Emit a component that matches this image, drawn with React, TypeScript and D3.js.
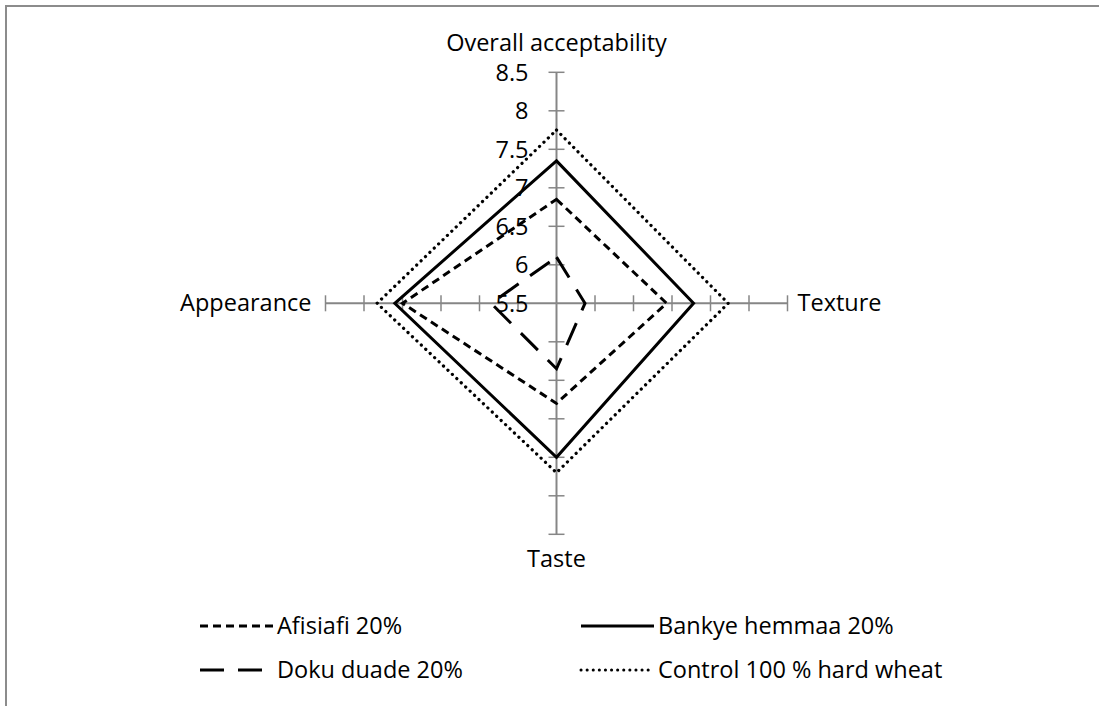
import React from 'react';
import * as d3 from 'd3';

const WIDTH = 1099;
const HEIGHT = 706;
const CX = 556.5;
const CY = 303.3;
const R = 231;
const FONT = "'Open Sans', sans-serif";
const FS = 23.5;

// clockwise from the top
const axes = ['Overall acceptability', 'Texture', 'Taste', 'Appearance'];
const tickValues = [5.5, 6, 6.5, 7, 7.5, 8, 8.5];

const afisiafi = [6.85, 6.93, 6.8, 7.5];
const bankye = [7.35, 7.28, 7.5, 7.6];
const doku = [6.1, 5.87, 6.35, 6.35];
const control = [7.75, 7.73, 7.7, 7.83];

const seriesNames = ['Afisiafi 20%', 'Bankye hemmaa 20%', 'Doku duade 20%', 'Control 100 % hard wheat'];
const seriesValues = [afisiafi, bankye, doku, control];
const dashes = ['8,5', 'none', '24,14', '0.1,6'];

const AXIS_COLOR = '#868686';

const App = () => {
  const r = d3.scaleLinear().domain([5.5, 8.5]).range([0, R]);
  const angle = (i: number) => (i * Math.PI) / 2; // 0 = up

  const pt = (i: number, v: number): [number, number] => [
    CX + Math.sin(angle(i)) * r(v),
    CY - Math.cos(angle(i)) * r(v),
  ];

  const line = d3.line().curve(d3.curveLinearClosed);

  return (
    <svg
      width={WIDTH}
      height={HEIGHT}
      style={{ position: 'absolute', left: 0, top: 0, background: '#fff' }}
      fontFamily={FONT}
    >
      <rect x={6} y={6} width={1300} height={900} fill="#fff" stroke="#8c8c8c" strokeWidth={2} />

      {/* axes */}
      {axes.map((name, i) => {
        const [x2, y2] = pt(i, 8.5);
        const horiz = i % 2 === 1;
        return (
          <g key={name}>
            <line x1={CX} y1={CY} x2={x2} y2={y2} stroke={AXIS_COLOR} strokeWidth={2} />
            {tickValues.slice(1).map((t) => {
              const [tx, ty] = pt(i, t);
              return horiz ? (
                <line key={t} x1={tx} x2={tx} y1={ty - 8} y2={ty + 8} stroke={AXIS_COLOR} strokeWidth={1.5} />
              ) : (
                <line key={t} x1={tx - 8} x2={tx + 8} y1={ty} y2={ty} stroke={AXIS_COLOR} strokeWidth={1.5} />
              );
            })}
          </g>
        );
      })}

      {/* tick labels on the top axis */}
      {tickValues.map((t) => (
        <text key={t} x={CX - 28} y={CY - r(t)} dy="0.35em" textAnchor="end" fontSize={FS} fill="#000">
          {t}
        </text>
      ))}

      {/* series */}
      {seriesValues.map((vals, s) => (
        <path
          key={seriesNames[s]}
          d={line(vals.map((v, i) => pt(i, v))) || ''}
          fill="none"
          stroke="#000"
          strokeWidth={s === 3 ? 3.2 : 3}
          strokeDasharray={dashes[s]}
          strokeLinecap={s === 3 ? 'round' : 'butt'}
          strokeLinejoin="miter"
        />
      ))}

      {/* axis labels */}
      <text x={CX} y={CY - R - 21} textAnchor="middle" fontSize={FS}>{axes[0]}</text>
      <text x={CX + R + 10} y={CY + 8} fontSize={FS}>{axes[1]}</text>
      <text x={CX} y={CY + R + 33} textAnchor="middle" fontSize={FS}>{axes[2]}</text>
      <text x={CX - R - 14} y={CY + 8} textAnchor="end" fontSize={FS}>{axes[3]}</text>

      {/* legend */}
      {seriesNames.map((name, s) => {
        const col = s % 2;
        const row = Math.floor(s / 2);
        const x = col === 0 ? 200 : 581;
        const y = row === 0 ? 626 : 670;
        return (
          <g key={name} transform={`translate(${x},${y})`}>
            <line
              x1={0}
              x2={73}
              y1={0}
              y2={0}
              stroke="#000"
              strokeWidth={3}
              strokeDasharray={dashes[s]}
              strokeLinecap={s === 3 ? 'round' : 'butt'}
            />
            <text x={77} dy="0.35em" fontSize={FS}>{name}</text>
          </g>
        );
      })}
    </svg>
  );
};

export default App;
